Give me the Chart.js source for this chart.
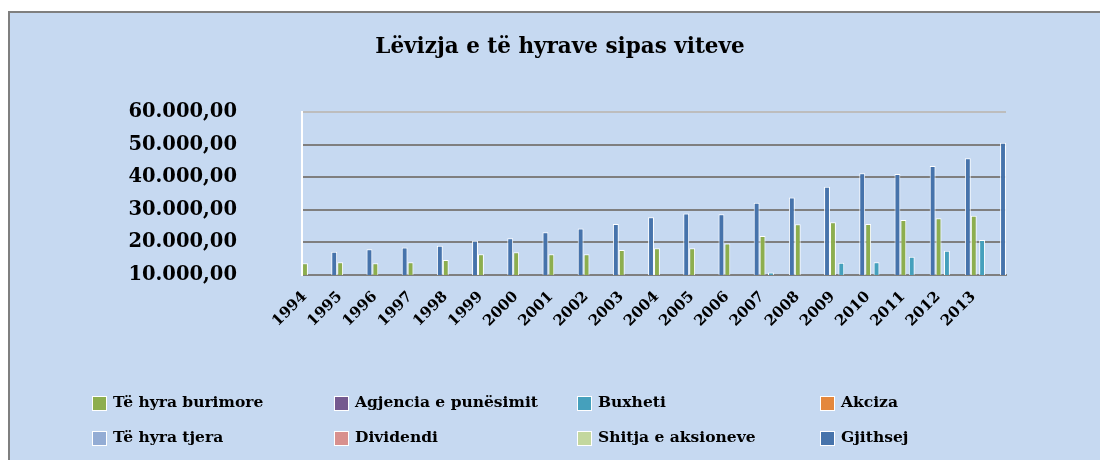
<!DOCTYPE html>
<html><head><meta charset="utf-8">
<script src="https://cdn.jsdelivr.net/npm/chart.js@4"></script>
<style>
html,body{margin:0;padding:0;background:#fff;width:1100px;height:460px;overflow:hidden}
#frame{position:absolute;left:8px;top:11px;width:1200px;height:560px;background:#C6D9F1;border-left:2px solid #7f7f7f;border-top:2px solid #7f7f7f}
#wrap{position:absolute;left:0;top:0;width:1100px;height:460px}
</style></head><body>
<div id="frame"></div>
<div id="wrap"><canvas id="c" width="1100" height="460"></canvas></div>
<script>
const chartTitle = 'Lëvizja e të hyrave sipas viteve';
const years = ['1994','1995','1996','1997','1998','1999','2000','2001','2002','2003','2004','2005','2006','2007','2008','2009','2010','2011','2012','2013'];
const seriesNames = ['Të hyra burimore','Agjencia e punësimit','Buxheti','Akciza','Të hyra tjera','Dividendi','Shitja e aksioneve','Gjithsej'];
const teHyraBurimore = [13600,13900,13600,13900,14600,16350,16950,16350,16350,17700,18200,18200,19700,21950,25550,26150,25650,26850,27400,28200];
const agjencia = [0,0,0,0,0,0,0,0,0,0,0,0,0,0,0,0,0,0,0,0];
const buxheti = [0,0,0,0,0,0,0,0,0,0,0,0,0,10800,0,13780,13880,15600,17450,20750];
const akciza = [0,0,0,0,0,0,0,0,0,0,0,0,0,0,0,0,0,0,0,0];
const teHyraTjera = [0,0,0,0,0,0,0,0,0,0,0,0,0,0,0,0,0,0,0,0];
const dividendi = [0,0,0,0,0,0,0,0,0,0,0,0,0,0,0,0,0,0,0,0];
const shitjaAksioneve = [0,0,0,0,0,0,0,0,0,0,0,0,0,0,0,0,0,0,0,0];
const gjithsej = [17150,17900,18400,19000,20500,21250,23100,24300,25650,27700,28900,28600,32200,33800,37100,41200,41000,43400,45800,50600];
const yTicks = [10000,20000,30000,40000,50000,60000];
const colors = ['#8DAE4E','#74598F','#45A0BC','#E4873C','#93ACD4','#D8908E','#C3D79E','#4673AB'];

const seriesData = [teHyraBurimore,agjencia,buxheti,akciza,teHyraTjera,dividendi,shitjaAksioneve,gjithsej];

function fmt(v){
  const s = String(Math.round(v)).replace(/\B(?=(\d{3})+(?!\d))/g,'.');
  return s + ',00';
}

const titlePlugin = {
  id:'customTitle',
  afterDraw(chart){
    const ctx = chart.ctx;
    ctx.save();
    ctx.font = 'bold 21.5px "DejaVu Serif"';
    ctx.fillStyle = '#000';
    ctx.textAlign = 'center';
    ctx.textBaseline = 'middle';
    ctx.fillText(chartTitle, 560, 47);
    ctx.restore();
  }
};

const legendPlugin = {
  id:'gridLegend',
  afterDraw(chart){
    const ctx = chart.ctx;
    const colX = [93,335,578,821];
    const rowY = [403,438];
    ctx.save();
    ctx.font = 'bold 15.5px "DejaVu Serif"';
    ctx.textBaseline = 'middle';
    ctx.textAlign = 'left';
    chart.data.datasets.forEach((ds,i)=>{
      const x = colX[i%4], y = rowY[Math.floor(i/4)];
      ctx.fillStyle = '#ffffff';
      ctx.fillRect(x-1, y-7, 15, 15);
      ctx.fillStyle = ds.backgroundColor;
      ctx.fillRect(x, y-6, 13, 13);
      ctx.fillStyle = '#000';
      ctx.fillText(ds.label, x+20, y);
    });
    ctx.restore();
  }
};

new Chart(document.getElementById('c'), {
  type:'bar',
  data:{
    labels: years,
    datasets: seriesNames.map((n,i)=>({
      label:n,
      data:seriesData[i],
      backgroundColor:colors[i],
      borderColor:'#ffffff',
      borderWidth:{left:1,right:1,top:1,bottom:0}
    }))
  },
  options:{
    responsive:false,
    devicePixelRatio:1,
    animation:false,
    layout:{padding:{left:0,top:112,right:94,bottom:0}},
    datasets:{bar:{categoryPercentage:0.95,barPercentage:1.4}},
    plugins:{legend:{display:false},title:{display:false},tooltip:{enabled:false}},
    scales:{
      x:{
        offset:true,
        grid:{
          offset:true,
          drawTicks:false,
          color:(c)=> c.index===years.length ? '#ffffff' : 'rgba(0,0,0,0)',
          lineWidth:2
        },
        border:{display:true,color:'#7f7f7f',width:2},
        ticks:{
          autoSkip:false,
          maxRotation:45,minRotation:45,
          labelOffset:-15,
          padding:13,
          color:'#000',
          font:{family:'DejaVu Serif',weight:'bold',size:15}
        },
        afterFit(s){ s.height = 185; }
      },
      y:{
        min:10000,max:60000,
        afterBuildTicks(s){ s.ticks = yTicks.map(v=>({value:v})); },
        grid:{
          drawTicks:false,
          color:(c)=> c.tick && c.tick.value===60000 ? '#bdbdbd' : '#7f7f7f',
          lineWidth:2
        },
        border:{display:true,color:'#ffffff',width:2},
        ticks:{
          padding:65,
          color:'#000',
          font:{family:'DejaVu Serif',weight:'bold',size:19.5},
          callback:(v)=>fmt(v)
        },
        afterFit(s){ s.width = 302; }
      }
    }
  },
  plugins:[titlePlugin,legendPlugin]
});
</script>
</body></html>
